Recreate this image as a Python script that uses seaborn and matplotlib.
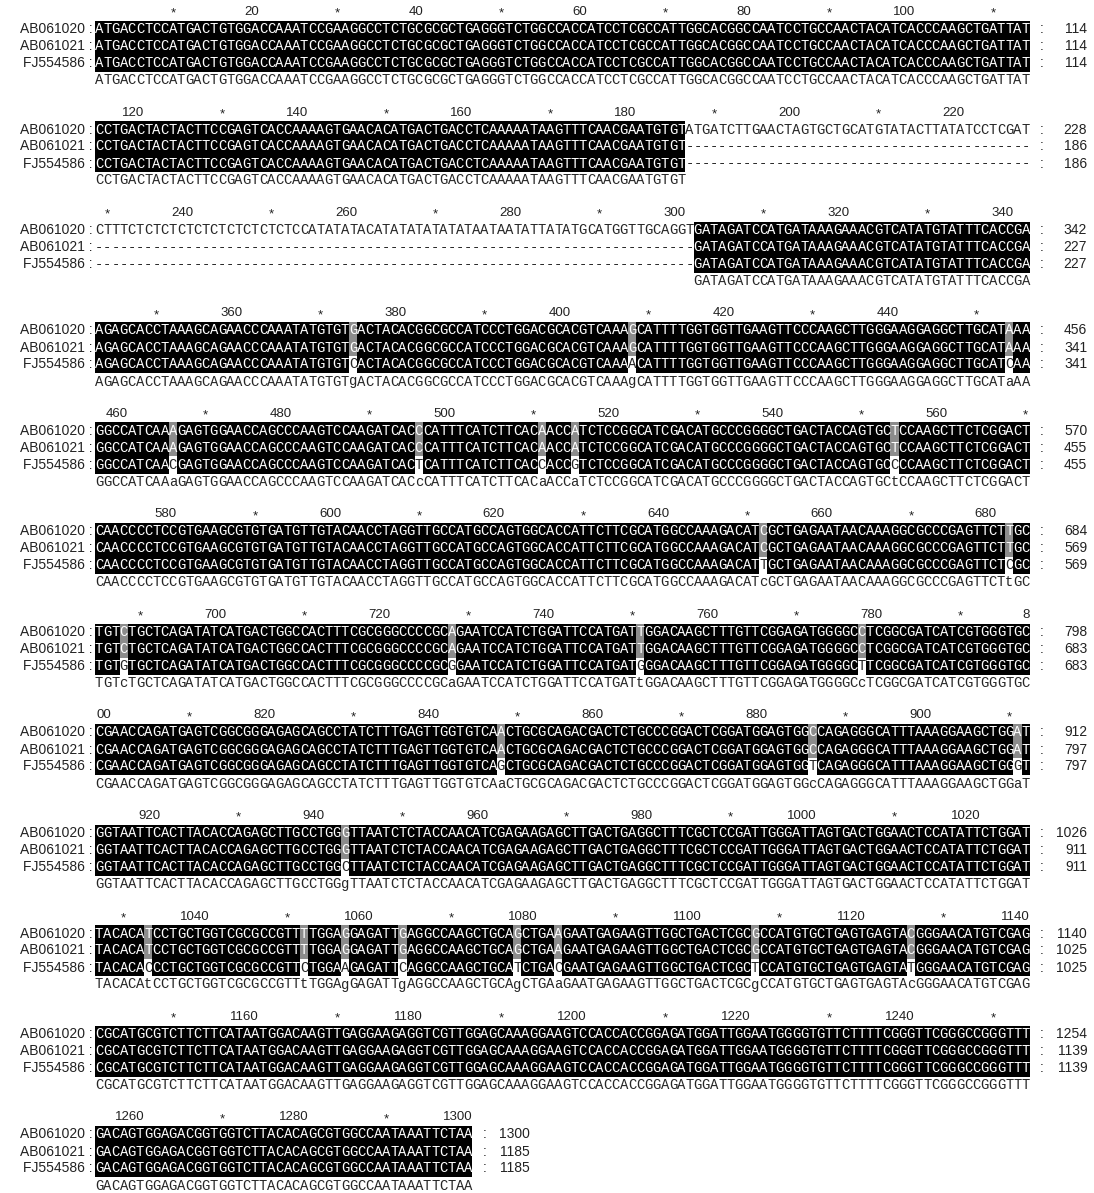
import numpy as np
import matplotlib
matplotlib.use("Agg")
import matplotlib.pyplot as plt
import seaborn as sns
from matplotlib.colors import ListedColormap

sns.set_theme(style="white")
plt.rcParams['font.family'] = ['Liberation Sans', 'DejaVu Sans']

# sequence names and aligned sequences, one string per alignment block (114 columns)
names = ["AB061020", "AB061021", "FJ554586"]

ab061020 = [
    "ATGACCTCCATGACTGTGGACCAAATCCGAAGGCCTCTGCGCGCTGAGGGTCTGGCCACCATCCTCGCCATTGGCACGGCCAATCCTGCCAACTACATCACCCAAGCTGATTAT",
    "CCTGACTACTACTTCCGAGTCACCAAAAGTGAACACATGACTGACCTCAAAAATAAGTTTCAACGAATGTGTATGATCTTGAACTAGTGCTGCATGTATACTTATATCCTCGAT",
    "CTTTCTCTCTCTCTCTCTCTCTCTCCATATATACATATATATATATAATAATATTATATGCATGGTTGCAGGTGATAGATCCATGATAAAGAAACGTCATATGTATTTCACCGA",
    "AGAGCACCTAAAGCAGAACCCAAATATGTGTGACTACACGGCGCCATCCCTGGACGCACGTCAAAGCATTTTGGTGGTTGAAGTTCCCAAGCTTGGGAAGGAGGCTTGCATAAA",
    "GGCCATCAAAGAGTGGAACCAGCCCAAGTCCAAGATCACCCATTTCATCTTCACAACCATCTCCGGCATCGACATGCCCGGGGCTGACTACCAGTGCTCCAAGCTTCTCGGACT",
    "CAACCCCTCCGTGAAGCGTGTGATGTTGTACAACCTAGGTTGCCATGCCAGTGGCACCATTCTTCGCATGGCCAAAGACATCGCTGAGAATAACAAAGGCGCCCGAGTTCTTGC",
    "TGTCTGCTCAGATATCATGACTGGCCACTTTCGCGGGCCCCGCAGAATCCATCTGGATTCCATGATTGGACAAGCTTTGTTCGGAGATGGGGCCTCGGCGATCATCGTGGGTGC",
    "CGAACCAGATGAGTCGGCGGGAGAGCAGCCTATCTTTGAGTTGGTGTCAACTGCGCAGACGACTCTGCCCGGACTCGGATGGAGTGGCCAGAGGGCATTTAAAGGAAGCTGGAT",
    "GGTAATTCACTTACACCAGAGCTTGCCTGGGTTAATCTCTACCAACATCGAGAAGAGCTTGACTGAGGCTTTCGCTCCGATTGGGATTAGTGACTGGAACTCCATATTCTGGAT",
    "TACACATCCTGCTGGTCGCGCCGTTTTGGAGGAGATTGAGGCCAAGCTGCAGCTGAAGAATGAGAAGTTGGCTGACTCGCGCCATGTGCTGAGTGAGTACGGGAACATGTCGAG",
    "CGCATGCGTCTTCTTCATAATGGACAAGTTGAGGAAGAGGTCGTTGGAGCAAAGGAAGTCCACCACCGGAGATGGATTGGAATGGGGTGTTCTTTTCGGGTTCGGGCCGGGTTT",
    "GACAGTGGAGACGGTGGTCTTACACAGCGTGGCCAATAAATTCTAA",
]

ab061021 = [
    "ATGACCTCCATGACTGTGGACCAAATCCGAAGGCCTCTGCGCGCTGAGGGTCTGGCCACCATCCTCGCCATTGGCACGGCCAATCCTGCCAACTACATCACCCAAGCTGATTAT",
    "CCTGACTACTACTTCCGAGTCACCAAAAGTGAACACATGACTGACCTCAAAAATAAGTTTCAACGAATGTGT" + "-" * 42,
    "-" * 73 + "GATAGATCCATGATAAAGAAACGTCATATGTATTTCACCGA",
    "AGAGCACCTAAAGCAGAACCCAAATATGTGTGACTACACGGCGCCATCCCTGGACGCACGTCAAAGCATTTTGGTGGTTGAAGTTCCCAAGCTTGGGAAGGAGGCTTGCATAAA",
    "GGCCATCAAAGAGTGGAACCAGCCCAAGTCCAAGATCACCCATTTCATCTTCACAACCATCTCCGGCATCGACATGCCCGGGGCTGACTACCAGTGCTCCAAGCTTCTCGGACT",
    "CAACCCCTCCGTGAAGCGTGTGATGTTGTACAACCTAGGTTGCCATGCCAGTGGCACCATTCTTCGCATGGCCAAAGACATCGCTGAGAATAACAAAGGCGCCCGAGTTCTTGC",
    "TGTCTGCTCAGATATCATGACTGGCCACTTTCGCGGGCCCCGCAGAATCCATCTGGATTCCATGATTGGACAAGCTTTGTTCGGAGATGGGGCCTCGGCGATCATCGTGGGTGC",
    "CGAACCAGATGAGTCGGCGGGAGAGCAGCCTATCTTTGAGTTGGTGTCAACTGCGCAGACGACTCTGCCCGGACTCGGATGGAGTGGCCAGAGGGCATTTAAAGGAAGCTGGAT",
    "GGTAATTCACTTACACCAGAGCTTGCCTGGGTTAATCTCTACCAACATCGAGAAGAGCTTGACTGAGGCTTTCGCTCCGATTGGGATTAGTGACTGGAACTCCATATTCTGGAT",
    "TACACATCCTGCTGGTCGCGCCGTTTTGGAGGAGATTGAGGCCAAGCTGCAGCTGAAGAATGAGAAGTTGGCTGACTCGCGCCATGTGCTGAGTGAGTACGGGAACATGTCGAG",
    "CGCATGCGTCTTCTTCATAATGGACAAGTTGAGGAAGAGGTCGTTGGAGCAAAGGAAGTCCACCACCGGAGATGGATTGGAATGGGGTGTTCTTTTCGGGTTCGGGCCGGGTTT",
    "GACAGTGGAGACGGTGGTCTTACACAGCGTGGCCAATAAATTCTAA",
]

fj554586 = [
    "ATGACCTCCATGACTGTGGACCAAATCCGAAGGCCTCTGCGCGCTGAGGGTCTGGCCACCATCCTCGCCATTGGCACGGCCAATCCTGCCAACTACATCACCCAAGCTGATTAT",
    "CCTGACTACTACTTCCGAGTCACCAAAAGTGAACACATGACTGACCTCAAAAATAAGTTTCAACGAATGTGT" + "-" * 42,
    "-" * 73 + "GATAGATCCATGATAAAGAAACGTCATATGTATTTCACCGA",
    "AGAGCACCTAAAGCAGAACCCAAATATGTGTCACTACACGGCGCCATCCCTGGACGCACGTCAAAACATTTTGGTGGTTGAAGTTCCCAAGCTTGGGAAGGAGGCTTGCATCAA",
    "GGCCATCAACGAGTGGAACCAGCCCAAGTCCAAGATCACTCATTTCATCTTCACCACCGTCTCCGGCATCGACATGCCCGGGGCTGACTACCAGTGCCCCAAGCTTCTCGGACT",
    "CAACCCCTCCGTGAAGCGTGTGATGTTGTACAACCTAGGTTGCCATGCCAGTGGCACCATTCTTCGCATGGCCAAAGACATTGCTGAGAATAACAAAGGCGCCCGAGTTCTCGC",
    "TGTGTGCTCAGATATCATGACTGGCCACTTTCGCGGGCCCCGCGGAATCCATCTGGATTCCATGATGGGACAAGCTTTGTTCGGAGATGGGGCTTCGGCGATCATCGTGGGTGC",
    "CGAACCAGATGAGTCGGCGGGAGAGCAGCCTATCTTTGAGTTGGTGTCAGCTGCGCAGACGACTCTGCCCGGACTCGGATGGAGTGGTCAGAGGGCATTTAAAGGAAGCTGGGT",
    "GGTAATTCACTTACACCAGAGCTTGCCTGGCTTAATCTCTACCAACATCGAGAAGAGCTTGACTGAGGCTTTCGCTCCGATTGGGATTAGTGACTGGAACTCCATATTCTGGAT",
    "TACACACCCTGCTGGTCGCGCCGTTCTGGAAGAGATTCAGGCCAAGCTGCATCTGACGAATGAGAAGTTGGCTGACTCGCTCCATGTGCTGAGTGAGTATGGGAACATGTCGAG",
    "CGCATGCGTCTTCTTCATAATGGACAAGTTGAGGAAGAGGTCGTTGGAGCAAAGGAAGTCCACCACCGGAGATGGATTGGAATGGGGTGTTCTTTTCGGGTTCGGGCCGGGTTT",
    "GACAGTGGAGACGGTGGTCTTACACAGCGTGGCCAATAAATTCTAA",
]

block_len = 114

# layout in pixels
W, H = 1094, 1193
x0 = 95
cell_w = 8.2
cell_h = 17
top0 = 3.5
pitch = 100.5

fig = plt.figure(figsize=(W / 100, H / 100), dpi=100)
cmap = ListedColormap(['white', '#8c8c8c', 'black'])

seq_blocks = [ab061020, ab061021, fj554586]
totals = [0, 0, 0]
total_cols = sum(len(b) for b in ab061020)

for b in range(len(ab061020)):
    seqs = [s[b] for s in seq_blocks]
    n = len(seqs[0])
    if any(len(s) != n for s in seqs) or (n != block_len and b != len(ab061020) - 1):
        raise ValueError(f"block {b}: lengths {[len(s) for s in seqs]}")

    # 2 = identical in all three (black), 1 = shared by two (grey), 0 = white
    shade = np.zeros((5, n))
    chars = np.full((5, n), '', dtype=object)
    for j in range(n):
        col = [s[j] for s in seqs]
        for i, c in enumerate(col):
            chars[i + 1, j] = c
        if col[0] == col[1] == col[2] and col[0] != '-':
            shade[1:4, j] = 2
            chars[4, j] = col[0]
        else:
            for c in set(col):
                if c != '-' and col.count(c) == 2:
                    for i in range(3):
                        if col[i] == c:
                            shade[i + 1, j] = 1
                    chars[4, j] = c.lower()

    top = top0 + b * pitch
    ax = fig.add_axes([x0 / W, 1 - (top + 5 * cell_h) / H, n * cell_w / W, 5 * cell_h / H])
    sns.heatmap(shade, cmap=cmap, vmin=-0.5, vmax=2.5, cbar=False,
                annot=chars, fmt='', xticklabels=False, yticklabels=False,
                annot_kws={'fontfamily': 'Liberation Mono', 'fontsize': 10},
                ax=ax)

    # header row: * every 10, number every 20 (right aligned on its column)
    start = b * block_len
    for p in range(10, total_cols + 1, 10):
        label = '*' if (p // 10) % 2 else str(p)
        cols = [p - len(label) + 1 + k for k in range(len(label))]
        part = ''.join(ch for ch, c in zip(label, cols) if start < c <= start + n)
        if not part:
            continue
        last = max(c for c in cols if start < c <= start + n) - start
        if label == '*':
            ax.text(last - 0.5, 0.6, '*', ha='center', va='center', fontsize=9.5, color='#222222')
        else:
            ax.text(last, 0.5, part, ha='right', va='center', fontsize=9.5, color='#222222')

    for r in range(3):
        totals[r] += sum(1 for c in seqs[r] if c != '-')
        ax.text(-0.35, r + 1.5, f"{names[r]} :", ha='right', va='center',
                fontsize=10, color='#222222', clip_on=False)
        ax.text(n + 1.5, r + 1.5, ':', ha='center', va='center',
                fontsize=10, color='#222222', clip_on=False)
        ax.text(n + 7, r + 1.5, str(totals[r]), ha='right', va='center',
                fontsize=10, color='#222222', clip_on=False)

fig.savefig('out.png', dpi=100)
